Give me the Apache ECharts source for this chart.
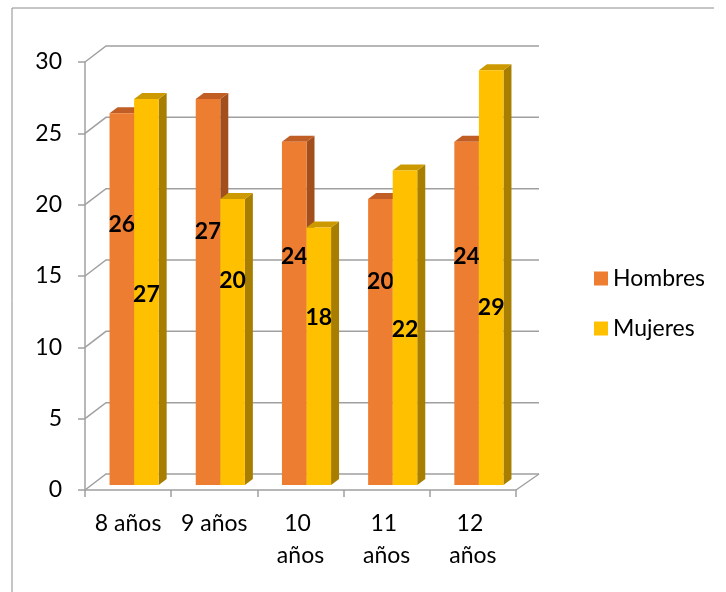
<!DOCTYPE html>
<html>
<head>
<meta charset="utf-8">
<script src="https://cdn.jsdelivr.net/npm/echarts@6/dist/echarts.min.js"></script>
<style>
html,body{margin:0;padding:0;background:#fff;}
#main{width:726px;height:592px;}
</style>
</head>
<body>
<div id="main"></div>
<script>
// datos
var categorias = ['8 años', '9 años', '10 años', '11 años', '12 años'];
var hombres = [26, 27, 24, 20, 24];
var mujeres = [27, 20, 18, 22, 29];
var yTicks = [0, 5, 10, 15, 20, 25, 30];
// altura (en unidades del eje) donde Excel puso cada etiqueta
var hombresEtiqueta = [18.2, 17.7, 16.0, 14.2, 16.0];
var mujeresEtiqueta = [13.3, 14.3, 11.7, 10.9, 12.4];

var fuente = 'Lato';
var gris = '#a0a0a0';

function barra3d(lado, col, etiquetas){
	return function(params, api){
		var i = api.value(0);
		var v = api.value(1);
		var top = api.coord([i, v]);
		var base = api.coord([i, 0]);
		var w = api.size([1, 0])[0] * 0.285;
		var x0 = lado === 0 ? top[0] - w : top[0];
		var x1 = x0 + w;
		var dx = 8, dy = 6;
		var ly = api.coord([i, etiquetas[i]])[1];
		return {
			type: 'group',
			children: [
				{type: 'polygon', shape: {points: [[x1, top[1]], [x1 + dx, top[1] - dy], [x1 + dx, base[1] - dy], [x1, base[1]]]}, style: {fill: col.lado}},
				{type: 'polygon', shape: {points: [[x0, top[1]], [x0 + dx, top[1] - dy], [x1 + dx, top[1] - dy], [x1, top[1]]]}, style: {fill: col.arriba}},
				{type: 'rect', shape: {x: x0, y: top[1], width: w, height: base[1] - top[1]}, style: {fill: col.frente}},
				{type: 'text', style: {text: String(v), x: (x0 + x1) / 2, y: ly, align: 'center', verticalAlign: 'middle',
					fontFamily: fuente, fontWeight: 'bold', fontSize: 23, fill: '#000'}}
			]
		};
	};
}

var myChart = echarts.init(document.getElementById('main'));
var option = {
	animation: false,
	backgroundColor: '#fff',
	graphic: [{
		type: 'polyline',
		shape: {points: [[12, 600], [12, 8], [714, 8]]},
		style: {fill: 'none', stroke: '#8c8c8c', lineWidth: 1}
	}],
	legend: {
		data: ['Hombres', 'Mujeres'],
		orient: 'vertical',
		left: 589,
		top: 262,
		itemWidth: 14,
		itemHeight: 14,
		itemGap: 27,
		icon: 'rect',
		textStyle: {fontFamily: fuente, fontSize: 23, color: '#000', padding: [0, 0, 0, 0]}
	},
	grid: [
		{left: 91, top: 56, width: 431, height: 429},		// plano de las barras
		{left: 85, top: 62, width: 431, height: 428}		// plano frontal (ejes)
	],
	xAxis: [
		{gridIndex: 0, type: 'category', data: categorias, show: false},
		{
			gridIndex: 1, type: 'category', data: categorias,
			axisLine: {show: true, lineStyle: {color: gris, width: 1.5}},
			axisTick: {show: true, length: 7, lineStyle: {color: gris, width: 1.5}},
			axisLabel: {
				fontFamily: fuente, fontSize: 23, color: '#000', margin: 18,
				lineHeight: 32, width: 80, overflow: 'break', interval: 0
			}
		}
	],
	yAxis: [
		{gridIndex: 0, type: 'value', min: 0, max: 30, interval: 5, show: false},
		{
			gridIndex: 1, type: 'value', min: 0, max: 30, interval: 5,
			axisLine: {show: true, lineStyle: {color: gris, width: 1.5}},
			axisTick: {show: true, length: 7, lineStyle: {color: gris, width: 1.5}},
			splitLine: {show: false},
			axisLabel: {fontFamily: fuente, fontSize: 23, color: '#000', margin: 23}
		}
	],
	series: [
		{
			// pared del fondo y piso
			type: 'custom',
			xAxisIndex: 1, yAxisIndex: 1,
			silent: true,
			data: yTicks.map(function(t){ return [0, t]; }),
			renderItem: function(params, api){
				var cs = params.coordSys;
				var y = api.coord([0, api.value(1)])[1];
				var x0 = cs.x, x1 = cs.x + cs.width;
				var kids = [{
					type: 'polyline',
					shape: {points: [[x0, y], [x0 + 21, y - 16], [x1 + 23, y - 16]]},
					style: {fill: 'none', stroke: gris, lineWidth: 1.5}
				}];
				if (api.value(1) === 0) {
					kids.push({type: 'line', shape: {x1: x1, y1: y, x2: x1 + 23, y2: y - 16},
						style: {stroke: gris, lineWidth: 1.5}});
				}
				return {type: 'group', children: kids};
			}
		},
		{
			name: 'Hombres',
			type: 'custom',
			xAxisIndex: 0, yAxisIndex: 0,
			itemStyle: {color: '#ED7D31'},
			data: hombres.map(function(v, i){ return [i, v]; }),
			renderItem: barra3d(0, {frente: '#ED7D31', lado: '#A34F1D', arriba: '#C15E26'}, hombresEtiqueta)
		},
		{
			name: 'Mujeres',
			type: 'custom',
			xAxisIndex: 0, yAxisIndex: 0,
			itemStyle: {color: '#FFC000'},
			data: mujeres.map(function(v, i){ return [i, v]; }),
			renderItem: barra3d(1, {frente: '#FFC000', lado: '#A87E00', arriba: '#CC9A00'}, mujeresEtiqueta)
		}
	]
};
myChart.setOption(option);
</script>
</body>
</html>
